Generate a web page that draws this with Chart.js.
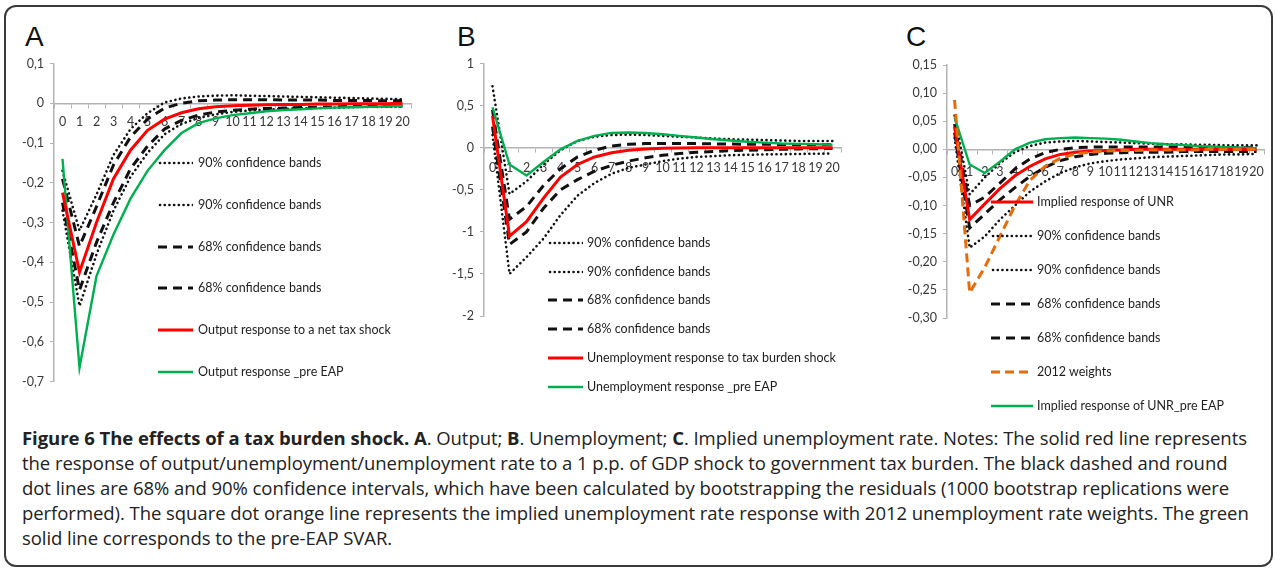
<!DOCTYPE html>
<html>
<head>
<meta charset="utf-8">
<script src="https://cdn.jsdelivr.net/npm/chart.js"></script>
<style>
  body { margin: 0; background: #fff; width: 1275px; height: 570px; position: relative; overflow: hidden; }
  #frame { position: absolute; left: 4px; top: 5px; width: 1265px; height: 558px; border: 2px solid #3a3a3a; border-radius: 12px; }
  .letter { position: absolute; font-family: "Liberation Sans", Arial, sans-serif; font-size: 28px; color: #111; line-height: 1; }
  canvas { position: absolute; }
  .leg { position: absolute; font-family: Lato, sans-serif; font-size: 12.5px; color: #1e1e1e; white-space: nowrap; line-height: 16px; height: 16px; }
  .leg svg { position: absolute; left: 0; top: 5px; }
  .leg span { position: absolute; top: 0; }
  #cap { position: absolute; left: 22px; top: 425px; font-family: "Open Sans", sans-serif; font-size: 18.5px; line-height: 25px; color: #222; white-space: nowrap; letter-spacing: -0.05px; }
</style>
</head>
<body>
<div id="frame"></div>
<div class="letter" style="left:25px;top:23px">A</div>
<div class="letter" style="left:457px;top:23px">B</div>
<div class="letter" style="left:906px;top:23px">C</div>

<canvas id="chartA" width="430" height="345" style="left:0;top:50px"></canvas>
<canvas id="chartB" width="420" height="290" style="left:430px;top:50px"></canvas>
<canvas id="chartC" width="425" height="290" style="left:850px;top:50px"></canvas>

<div id="cap">
<b>Figure 6 The effects of a tax burden shock. A</b>. Output; <b>B</b>. Unemployment; <b>C</b>. Implied unemployment rate. Notes: The solid red line represents<br>
the response of output/unemployment/unemployment rate to a 1 p.p. of GDP shock to government tax burden. The black dashed and round<br>
dot lines are 68% and 90% confidence intervals, which have been calculated by bootstrapping the residuals (1000 bootstrap replications were<br>
performed). The square dot orange line represents the implied unemployment rate response with 2012 unemployment rate weights. The green<br>
solid line corresponds to the pre-EAP SVAR.
</div>

<script>
// horizon (periods after the shock)
const periods = ['0','1','2','3','4','5','6','7','8','9','10','11','12','13','14','15','16','17','18','19','20'];

// A. Output
const aUp90  = [-0.17, -0.32, -0.23, -0.13, -0.065, -0.025, 0.002, 0.012, 0.017, 0.019, 0.02, 0.019, 0.018, 0.017, 0.016, 0.015, 0.014, 0.013, 0.012, 0.011, 0.01];
const aLo90  = [-0.27, -0.51, -0.38, -0.27, -0.185, -0.125, -0.078, -0.052, -0.037, -0.028, -0.022, -0.018, -0.016, -0.014, -0.013, -0.012, -0.011, -0.01, -0.009, -0.009, -0.008];
const aUp68  = [-0.19, -0.36, -0.26, -0.155, -0.085, -0.04, -0.012, 0.0, 0.006, 0.008, 0.009, 0.009, 0.009, 0.008, 0.008, 0.008, 0.007, 0.007, 0.007, 0.006, 0.006];
const aLo68  = [-0.25, -0.47, -0.35, -0.25, -0.165, -0.108, -0.065, -0.043, -0.03, -0.022, -0.018, -0.015, -0.013, -0.012, -0.011, -0.01, -0.009, -0.008, -0.008, -0.007, -0.007];
const aRed   = [-0.225, -0.425, -0.3, -0.19, -0.118, -0.068, -0.04, -0.024, -0.014, -0.009, -0.006, -0.005, -0.004, -0.003, -0.003, -0.002, -0.002, -0.001, -0.001, -0.001, 0];
const aGreen = [-0.14, -0.665, -0.435, -0.33, -0.24, -0.17, -0.118, -0.075, -0.05, -0.038, -0.03, -0.025, -0.02, -0.017, -0.015, -0.013, -0.011, -0.01, -0.009, -0.008, -0.007];
const aTickVals = [-0.7, -0.6, -0.5, -0.4, -0.3, -0.2, -0.1, 0, 0.1];
const aTickText = ['-0,7', '-0,6', '-0,5', '-0,4', '-0,3', '-0,2', '-0,1', '0', '0,1'];

// B. Unemployment
const bUp90  = [0.73, -0.55, -0.4, -0.2, -0.03, 0.08, 0.13, 0.15, 0.155, 0.15, 0.14, 0.13, 0.12, 0.11, 0.1, 0.095, 0.09, 0.085, 0.08, 0.08, 0.08];
const bLo90  = [0.15, -1.5, -1.3, -1.08, -0.8, -0.57, -0.42, -0.31, -0.24, -0.2, -0.16, -0.13, -0.11, -0.1, -0.09, -0.085, -0.08, -0.078, -0.075, -0.072, -0.07];
const bUp68  = [0.45, -0.85, -0.7, -0.45, -0.25, -0.11, -0.03, 0.02, 0.04, 0.05, 0.05, 0.05, 0.048, 0.045, 0.043, 0.04, 0.04, 0.038, 0.036, 0.035, 0.035];
const bLo68  = [0.25, -1.15, -1.0, -0.72, -0.5, -0.38, -0.28, -0.21, -0.16, -0.12, -0.09, -0.07, -0.055, -0.045, -0.035, -0.03, -0.025, -0.02, -0.015, -0.012, -0.01];
const bRed   = [0.38, -1.05, -0.88, -0.6, -0.35, -0.2, -0.11, -0.06, -0.03, -0.015, -0.007, -0.003, 0, 0, 0, 0, 0, 0, 0, 0, 0];
const bGreen = [0.48, -0.2, -0.33, -0.17, -0.02, 0.08, 0.14, 0.175, 0.18, 0.175, 0.16, 0.14, 0.12, 0.1, 0.085, 0.07, 0.06, 0.05, 0.045, 0.04, 0.035];
const bTickVals = [-2, -1.5, -1, -0.5, 0, 0.5, 1];
const bTickText = ['-2', '-1,5', '-1', '-0,5', '0', '0,5', '1'];

// C. Implied unemployment rate
const cUp90   = [0.06, -0.08, -0.05, -0.025, -0.005, 0.006, 0.012, 0.014, 0.015, 0.014, 0.013, 0.012, 0.011, 0.01, 0.009, 0.009, 0.008, 0.008, 0.007, 0.007, 0.007];
const cLo90   = [0.02, -0.175, -0.155, -0.125, -0.1, -0.075, -0.057, -0.042, -0.032, -0.025, -0.021, -0.018, -0.016, -0.014, -0.013, -0.012, -0.011, -0.01, -0.009, -0.009, -0.008];
const cUp68   = [0.045, -0.1, -0.085, -0.06, -0.035, -0.017, -0.006, 0, 0.003, 0.004, 0.004, 0.004, 0.004, 0.004, 0.004, 0.004, 0.003, 0.003, 0.003, 0.003, 0.003];
const cLo68   = [0.03, -0.14, -0.115, -0.09, -0.068, -0.048, -0.032, -0.02, -0.013, -0.009, -0.007, -0.006, -0.005, -0.005, -0.005, -0.004, -0.004, -0.004, -0.004, -0.004, -0.004];
const cRed    = [0.04, -0.125, -0.097, -0.07, -0.047, -0.03, -0.017, -0.009, -0.005, -0.003, -0.002, -0.001, 0, 0, 0, 0, 0, 0, 0, 0, 0];
const cOrange = [0.088, -0.255, -0.21, -0.155, -0.1, -0.055, -0.03, -0.016, -0.008, -0.005, -0.003, -0.002, -0.002, -0.001, -0.001, -0.001, -0.001, 0, 0, 0, 0];
const cGreen  = [0.057, -0.027, -0.042, -0.022, 0, 0.012, 0.018, 0.02, 0.021, 0.02, 0.019, 0.017, 0.014, 0.011, 0.009, 0.008, 0.006, 0.005, 0.004, 0.003, 0.002];
const cTickVals = [-0.3, -0.25, -0.2, -0.15, -0.1, -0.05, 0, 0.05, 0.1, 0.15];
const cTickText = ['-0,30', '-0,25', '-0,20', '-0,15', '-0,10', '-0,05', '0,00', '0,05', '0,10', '0,15'];

const AXIS = '#b3b3b3';
const TXT = '#383838';

// line looks
const dotted = (label, data) => ({ label, data, borderColor: '#111', borderWidth: 2.6, borderDash: [0.1, 4.6], borderCapStyle: 'round', order: 3 });
const dashed = (label, data) => ({ label, data, borderColor: '#111', borderWidth: 3, borderDash: [9, 6], borderCapStyle: 'butt', order: 2 });
const solid = (label, data, color, w, order) => ({ label, data, borderColor: color, borderWidth: w, order });
const orangeDash = (label, data) => ({ label, data, borderColor: '#e46c0a', borderWidth: 3, borderDash: [9, 5], borderCapStyle: 'butt', order: 0 });

function makeChart(id, datasets, yMin, yMax, tickVals, tickText, yWidth, pad, xPad) {
  return new Chart(document.getElementById(id), {
    type: 'line',
    data: { labels: periods, datasets },
    options: {
      responsive: false,
      animation: false,
      devicePixelRatio: 1,
      layout: { padding: pad },
      elements: { point: { radius: 0 }, line: { tension: 0, fill: false } },
      plugins: { legend: { display: false }, tooltip: { enabled: false } },
      scales: {
        x: {
          type: 'category',
          position: { y: 0 },
          offset: true,
          grid: { drawOnChartArea: false, drawTicks: true, tickLength: 4, offset: true, color: AXIS },
          border: { color: AXIS, width: 1.5 },
          ticks: { autoSkip: false, maxRotation: 0, padding: xPad, color: TXT, font: { family: 'Lato', size: 12.5 } }
        },
        y: {
          min: yMin, max: yMax,
          afterFit: s => { s.width = yWidth; },
          afterBuildTicks: s => { s.ticks = tickVals.map(v => ({ value: v })); },
          grid: { drawOnChartArea: false, drawTicks: true, tickLength: 4, color: AXIS },
          border: { color: AXIS, width: 1.5 },
          ticks: {
            padding: 6, color: TXT, font: { family: 'Lato', size: 12.5 },
            callback: (v, i) => tickText[i]
          }
        }
      }
    }
  });
}

const chartA = makeChart('chartA', [
  dotted('90% confidence bands', aUp90),
  dotted('90% confidence bands', aLo90),
  dashed('68% confidence bands', aUp68),
  dashed('68% confidence bands', aLo68),
  solid('Output response to a net tax shock', aRed, '#ff0000', 3, 0),
  solid('Output response _pre EAP', aGreen, '#00b050', 2.4, 1)
], -0.7, 0.1, aTickVals, aTickText, 54, { top: 13, bottom: 12, left: 0, right: 19 }, 7);

const chartB = makeChart('chartB', [
  dotted('90% confidence bands', bUp90),
  dotted('90% confidence bands', bLo90),
  dashed('68% confidence bands', bUp68),
  dashed('68% confidence bands', bLo68),
  solid('Unemployment response to tax burden shock', bRed, '#ff0000', 3, 0),
  solid('Unemployment response _pre EAP', bGreen, '#00b050', 2.4, 1)
], -2, 1, bTickVals, bTickText, 54, { top: 13, bottom: 24, left: 0, right: 9 }, 9);

const chartC = makeChart('chartC', [
  solid('Implied response of UNR', cRed, '#ff0000', 3, 1),
  dotted('90% confidence bands', cUp90),
  dotted('90% confidence bands', cLo90),
  dashed('68% confidence bands', cUp68),
  dashed('68% confidence bands', cLo68),
  orangeDash('2012 weights', cOrange),
  solid('Implied response of UNR_pre EAP', cGreen, '#00b050', 2.4, 1)
], -0.3, 0.15, cTickVals, cTickText, 97, { top: 15, bottom: 22, left: 0, right: 8 }, 11);

// legends placed inside the plot, as in the original figure
function legend(chart, x, y0, dy, sampleW, textGap) {
  chart.data.datasets.forEach((ds, i) => {
    const d = document.createElement('div');
    d.className = 'leg';
    d.style.left = x + 'px';
    d.style.top = (y0 + i * dy - 8) + 'px';
    const dash = ds.borderDash ? ds.borderDash.join(' ') : 'none';
    const cap = ds.borderCapStyle || 'butt';
    d.innerHTML =
      '<svg width="' + sampleW + '" height="6"><line x1="' + (cap === 'round' ? 2 : 0) + '" y1="3" x2="' + sampleW + '" y2="3" stroke="' +
      ds.borderColor + '" stroke-width="' + ds.borderWidth + '" stroke-dasharray="' + dash + '" stroke-linecap="' + cap + '"/></svg>' +
      '<span style="left:' + (sampleW + textGap) + 'px">' + ds.label + '</span>';
    document.body.appendChild(d);
  });
}
legend(chartA, 158, 163, 41.8, 35, 5);
legend(chartB, 548, 243, 28.7, 35, 4);
legend(chartC, 991, 202, 34, 42, 4);
</script>
</body>
</html>
